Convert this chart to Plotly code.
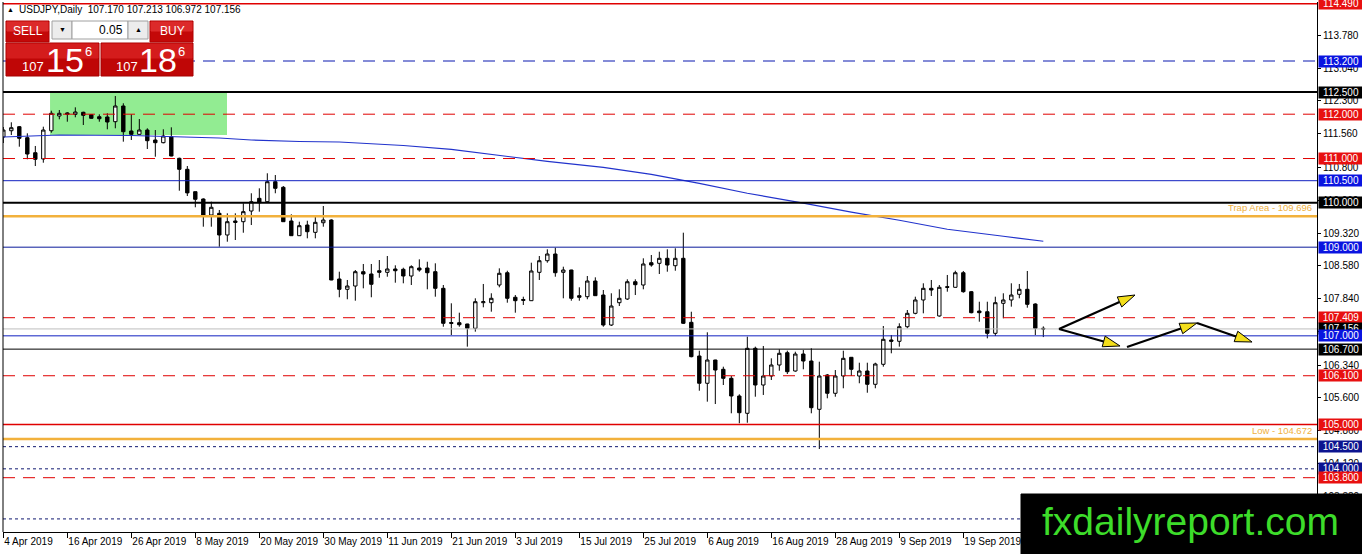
import math
import plotly.graph_objects as go

# USDJPY daily, 4 Apr 2019 - 3 Oct 2019
opens = [111.485, 111.627, 111.718, 111.470, 111.131, 110.990, 111.627, 111.959, 111.997, 111.997,
         112.043, 111.988, 111.943, 111.937, 111.831, 112.185, 111.621, 111.546, 111.643, 111.418,
         111.357, 111.492, 111.005, 110.757, 110.252, 110.087, 109.726, 109.764, 109.275, 109.557,
         109.575, 109.816, 110.102, 110.026, 110.477, 110.351, 109.591, 109.259, 109.500, 109.335,
         109.552, 109.613, 108.282, 108.050, 108.124, 108.447, 108.395, 108.469, 108.433, 108.508,
         108.501, 108.350, 108.530, 108.530, 108.447, 108.072, 107.278, 107.296, 107.267, 107.170,
         107.748, 107.748, 108.147, 108.424, 107.870, 107.798, 107.793, 108.433, 108.695, 108.846,
         108.433, 108.485, 107.906, 107.883, 108.237, 107.921, 107.244, 107.748, 107.831, 108.221,
         108.147, 108.650, 108.636, 108.749, 108.582, 108.749, 107.305, 106.545, 105.930, 106.455,
         106.245, 106.042, 105.643, 105.253, 106.719, 105.891, 106.094, 106.342, 106.620, 106.207,
         106.590, 106.432, 105.343, 106.117, 105.704, 106.094, 106.516, 106.094, 106.207, 105.907,
         106.358, 106.906, 106.877, 107.206, 107.508, 107.809, 108.072, 107.448, 108.109, 108.095,
         108.424, 107.996, 107.560, 107.544, 107.057, 107.734, 107.809, 107.937, 108.050, 107.718,
         107.170]
highs = [111.711, 111.817, 111.734, 111.569, 111.283, 111.718, 112.079, 112.094, 112.043, 112.155,
         112.056, 111.997, 111.997, 112.020, 112.410, 112.246, 111.997, 111.891, 111.682, 111.643,
         111.659, 111.704, 111.019, 110.831, 110.252, 110.102, 110.026, 109.839, 109.764, 109.764,
         109.990, 110.216, 110.328, 110.667, 110.628, 110.380, 109.742, 109.575, 109.597, 109.687,
         109.929, 109.629, 108.447, 108.260, 108.485, 108.621, 108.621, 108.711, 108.801, 108.591,
         108.537, 108.591, 108.726, 108.672, 108.636, 108.147, 107.734, 107.522, 107.272, 107.847,
         108.170, 107.960, 108.523, 108.469, 107.921, 107.883, 108.650, 108.801, 108.952, 108.988,
         108.560, 108.490, 108.095, 108.350, 108.320, 108.034, 107.960, 108.050, 108.275, 108.275,
         108.749, 108.824, 108.898, 108.952, 108.975, 109.327, 107.544, 106.665, 107.080, 106.460,
         106.304, 106.094, 105.681, 106.981, 106.756, 106.771, 106.493, 106.696, 106.665, 106.642,
         106.681, 106.719, 106.417, 106.139, 106.229, 106.665, 106.520, 106.394, 106.394, 106.394,
         107.222, 107.019, 107.283, 107.583, 107.883, 108.185, 108.260, 108.147, 108.373, 108.469,
         108.463, 108.012, 107.770, 107.770, 107.883, 107.960, 108.185, 108.170, 108.463, 107.734,
         107.213]
lows = [111.350, 111.530, 111.267, 110.983, 110.831, 110.906, 111.582, 111.885, 111.831, 111.930,
        111.756, 111.898, 111.831, 111.659, 111.682, 111.380, 111.418, 111.540, 111.215, 111.041,
        111.343, 111.050, 110.274, 110.154, 109.900, 109.462, 109.462, 109.011, 109.124, 109.162,
        109.326, 109.500, 109.801, 110.020, 110.216, 109.570, 109.255, 109.255, 109.200, 109.200,
        109.462, 108.255, 107.870, 107.825, 107.793, 108.072, 107.870, 108.311, 108.334, 108.199,
        108.185, 108.147, 108.447, 108.050, 107.883, 107.206, 107.019, 107.206, 106.756, 107.094,
        107.644, 107.545, 108.095, 107.748, 107.522, 107.696, 107.788, 108.260, 108.650, 108.334,
        107.847, 107.793, 107.793, 107.825, 107.900, 107.206, 107.222, 107.673, 107.809, 107.921,
        108.050, 108.560, 108.395, 108.447, 108.469, 107.267, 106.516, 105.762, 105.515, 105.462,
        105.891, 105.253, 105.027, 105.040, 105.627, 105.666, 106.004, 106.213, 106.139, 106.191,
        106.245, 105.253, 104.447, 105.591, 105.627, 105.817, 106.094, 105.930, 105.717, 105.817,
        106.304, 106.606, 106.756, 107.170, 107.486, 107.508, 107.899, 107.432, 107.996, 108.090,
        107.973, 107.508, 107.319, 106.944, 106.996, 107.396, 107.658, 107.847, 107.635, 107.019,
        106.972]
closes = [111.643, 111.695, 111.456, 111.102, 110.983, 111.643, 112.020, 112.020, 112.027, 112.049,
          111.975, 111.907, 111.898, 111.824, 112.185, 111.605, 111.546, 111.643, 111.402, 111.357,
          111.508, 111.057, 110.757, 110.225, 110.080, 109.726, 109.900, 109.275, 109.575, 109.591,
          109.801, 110.026, 110.003, 110.477, 110.328, 109.575, 109.259, 109.485, 109.349, 109.561,
          109.613, 108.260, 108.050, 108.124, 108.447, 108.395, 108.163, 108.433, 108.508, 108.469,
          108.350, 108.560, 108.485, 108.424, 108.072, 107.283, 107.301, 107.251, 107.170, 107.770,
          107.770, 107.847, 108.411, 107.847, 107.793, 107.820, 108.463, 108.695, 108.846, 108.424,
          108.485, 107.847, 107.870, 108.237, 107.906, 107.244, 107.673, 107.847, 108.221, 108.154,
          108.621, 108.598, 108.749, 108.598, 108.749, 107.283, 106.530, 105.930, 106.455, 106.229,
          106.042, 105.643, 105.266, 106.719, 105.891, 106.094, 106.342, 106.606, 106.191, 106.590,
          106.432, 105.379, 106.094, 105.704, 106.094, 106.493, 106.245, 106.207, 105.907, 106.365,
          106.922, 106.877, 107.206, 107.508, 107.809, 108.072, 108.034, 108.095, 108.095, 108.424,
          107.996, 107.522, 107.522, 107.057, 107.748, 107.809, 107.921, 108.050, 107.711, 107.170,
          107.156]
bars = list(range(len(closes)))

# moving average line (sampled along its length)
ma_bars = [0, 7, 16, 21, 27, 31, 37, 42, 50, 56, 62, 68, 75, 81, 87, 93, 100, 106, 112, 118, 125, 130]
ma_vals = [111.486, 111.531, 111.519, 111.497, 111.463, 111.418, 111.384, 111.373, 111.294, 111.205,
           111.070, 110.935, 110.800, 110.642, 110.440, 110.217, 109.992, 109.789, 109.608, 109.405,
           109.247, 109.134]

# date labels, one every 8 bars
date_labels = ["4 Apr 2019", "16 Apr 2019", "26 Apr 2019", "8 May 2019", "20 May 2019", "30 May 2019",
               "11 Jun 2019", "21 Jun 2019", "3 Jul 2019", "15 Jul 2019", "25 Jul 2019", "6 Aug 2019",
               "16 Aug 2019", "28 Aug 2019", "9 Sep 2019", "19 Sep 2019", "1 Oct 2019"]

# price scale labels
price_ticks = [113.780, 113.040, 112.300, 111.560, 110.800, 110.060, 109.320, 108.580,
               107.840, 107.100, 106.340, 105.600, 104.860, 104.120, 103.380, 102.640]

# horizontal levels drawn on the chart
levels = [114.490, 113.200, 112.500, 112.000, 111.000, 110.500, 110.000, 109.696, 109.000, 107.409,
          107.156, 107.000, 106.700, 106.100, 105.000, 104.672, 104.500, 104.000, 103.800, 102.870]
level_kinds = ["red", "blue_dash", "black_bold", "red_dash", "red_dash", "blue", "black_bold", "orange",
               "navy", "red_dash", "gray", "blue", "black", "red_dash", "red", "orange",
               "navy_dot", "navy_dot", "red_dash", "navy_dot"]
level_notes = {109.696: "Trap Area - 109.696", 104.672: "Low - 104.672"}

# support zone box and the analyst's arrows
zone = [5.84, 27.96, 111.53, 112.48]
arrows = [(131.96, 107.154, 141.46, 107.921),
          (131.96, 107.154, 139.59, 106.771),
          (140.46, 106.748, 149.21, 107.290),
          (149.21, 107.290, 156.09, 106.861)]

styles = {
    "red":        dict(color="#e00000", width=1.5, dash="solid", box="#e81010"),
    "red_dash":   dict(color="#e00000", width=1, dash="12px,8px", box="#e81010"),
    "blue_dash":  dict(color="#0a18b0", width=1.2, dash="12px,8px", box="#0a14e0"),
    "blue":       dict(color="#1020c0", width=1, dash="solid", box="#0a14e0"),
    "navy":       dict(color="#0a1a9a", width=1, dash="solid", box="#0a14e0"),
    "navy_dot":   dict(color="#101870", width=1, dash="3px,3px", box="#0c1490"),
    "black_bold": dict(color="#000000", width=2, dash="solid", box="#000000"),
    "black":      dict(color="#000000", width=1, dash="solid", box="#000000"),
    "gray":       dict(color="#bdbdbd", width=1, dash="solid", box="#000000"),
    "orange":     dict(color="#f2b13c", width=2.5, dash="solid", box=None),
}

W, H = 1362, 554
ML, MR, MT, MB = 3, 45, 2, 22
PX_BAR = 8.0
PX_YEN = 44.33
FONT = "Liberation Sans"


def px(xp):
    return (xp - ML) / (W - ML - MR)


def py(yp):
    return (H - MB - yp) / (H - MT - MB)


fig = go.Figure()

fig.add_trace(go.Scatter(x=ma_bars, y=ma_vals, mode="lines",
                         line=dict(color="#2233cc", width=1.2), hoverinfo="skip"))

fig.add_trace(go.Candlestick(
    x=bars, open=opens, high=highs, low=lows, close=closes,
    increasing=dict(fillcolor="white", line=dict(color="black", width=1)),
    decreasing=dict(fillcolor="black", line=dict(color="black", width=1)),
    whiskerwidth=0, hoverinfo="skip"))

shapes = []
annotations = []

shapes.append(dict(type="rect", xref="x", yref="y", x0=zone[0], x1=zone[1], y0=zone[2], y1=zone[3],
                   fillcolor="#92ec92", line=dict(width=0), layer="below"))

for lvl, kind in zip(levels, level_kinds):
    st = styles[kind]
    shapes.append(dict(type="line", xref="paper", yref="y", x0=0, x1=1, y0=lvl, y1=lvl,
                       line=dict(color=st["color"], width=st["width"], dash=st["dash"]), layer="above"))
    if lvl in level_notes:
        annotations.append(dict(x=1, xref="paper", y=lvl, yref="y", xanchor="right", yanchor="bottom",
                                xshift=-3, yshift=1, text=level_notes[lvl], showarrow=False,
                                font=dict(family=FONT, size=9.5, color="#f0b040")))

# right-hand price boxes
for lvl, kind in zip(levels, level_kinds):
    st = styles[kind]
    if st["box"] is None or lvl < 103:
        continue
    annotations.append(dict(x=1, xref="paper", y=lvl, yref="y", xanchor="left", yanchor="middle",
                            xshift=1, text=f"{lvl:.3f}", showarrow=False, bgcolor=st["box"],
                            width=42, height=9, borderpad=1,
                            font=dict(family=FONT, size=10, color="white")))


def arrow(x0, y0, x1, y1, head=17, half=5.5):
    u0, v0, u1, v1 = x0 * PX_BAR, y0 * PX_YEN, x1 * PX_BAR, y1 * PX_YEN
    d = math.hypot(u1 - u0, v1 - v0)
    ux, uy = (u1 - u0) / d, (v1 - v0) / d
    bu, bv = u1 - ux * head, v1 - uy * head
    pts = [(u1, v1), (bu - uy * half, bv + ux * half), (bu + uy * half, bv - ux * half)]
    path = "M " + " L ".join(f"{u / PX_BAR:.4f},{v / PX_YEN:.5f}" for u, v in pts) + " Z"
    return [dict(type="line", xref="x", yref="y", x0=x0, y0=y0, x1=bu / PX_BAR, y1=bv / PX_YEN,
                 line=dict(color="black", width=2.2), layer="above"),
            dict(type="path", xref="x", yref="y", path=path, fillcolor="#f3de1a",
                 line=dict(color="black", width=1), layer="above")]


for a in arrows:
    shapes += arrow(*a)

# left border of the chart window
shapes.append(dict(type="line", xref="paper", yref="paper", x0=0, x1=0, y0=0, y1=1,
                   line=dict(color="black", width=1)))


def rect(x0, y0, x1, y1, fill, border=None):
    return dict(type="rect", xref="paper", yref="paper", x0=px(x0), x1=px(x1), y0=py(y1), y1=py(y0),
                fillcolor=fill, line=dict(color=border or fill, width=1), layer="above")


def label(x, y, text, size, color="white", xanchor="center"):
    return dict(x=px(x), y=py(y), xref="paper", yref="paper", text=text, showarrow=False,
                xanchor=xanchor, yanchor="middle", font=dict(family=FONT, size=size, color=color))


# one-click trading panel
for x0, x1 in [(6, 49), (150, 193)]:
    shapes.append(rect(x0, 21, x1, 42, "#c40808", "#b00000"))
    shapes.append(rect(x0 + 1, 22, x1 - 1, 31, "#dc2a2a"))
for x0, x1 in [(6, 99), (101, 193)]:
    shapes.append(rect(x0, 43, x1, 76, "#bf0606", "#a80000"))
    shapes.append(rect(x0 + 1, 44, x1 - 1, 58, "#d41c1c"))
shapes.append(rect(52, 21, 72, 39, "#ececec", "#a0a0a0"))
shapes.append(rect(72, 21, 128, 39, "white", "#a0a0a0"))
shapes.append(rect(128, 21, 148, 39, "#ececec", "#a0a0a0"))

annotations += [
    label(28, 31, "SELL", 12),
    label(172, 31, "BUY", 12),
    label(62, 30, "▼", 7, "black"),
    label(138, 30, "▲", 7, "black"),
    label(125, 30, "0.05", 12, "black", "right"),
    label(33, 67, "107", 13),
    label(65, 60, "15", 34),
    label(88, 52, "6", 13),
    label(127, 67, "107", 13),
    label(158, 60, "18", 34),
    label(181, 52, "6", 13),
    label(5, 10, "▲", 7, "black", "left"),
    label(17, 10, "USDJPY,Daily  107.170 107.213 106.972 107.156", 10, "black", "left"),
]

# watermark
shapes.append(rect(1021, 494, 1362, 554, "black"))
annotations.append(label(1190, 521, "fxdailyreport.com", 39, "#3ddc2a"))

fig.update_layout(
    width=W, height=H,
    margin=dict(l=ML, r=MR, t=MT, b=MB, autoexpand=False),
    paper_bgcolor="white", plot_bgcolor="white",
    showlegend=False, hovermode=False, boxgap=0.4,
    shapes=shapes, annotations=annotations,
    font=dict(family=FONT, size=10, color="black"),
    xaxis=dict(range=[-0.04, 164.21], rangeslider=dict(visible=False), showgrid=False, zeroline=False,
               tickmode="array", tickvals=[8 * i for i in range(len(date_labels))], ticktext=date_labels,
               ticks="outside", ticklen=5, tickcolor="black", showline=True, linecolor="black",
               ticklabelposition="outside right", tickangle=0, automargin=False,
               tickfont=dict(size=10)),
    yaxis=dict(range=[102.575, 114.531], side="right", showgrid=False, zeroline=False,
               tickmode="array", tickvals=price_ticks, ticktext=[f"{v:.3f}" for v in price_ticks],
               ticks="outside", ticklen=3, tickcolor="black", showline=True, linecolor="black",
               automargin=False, tickfont=dict(size=10)),
)

# the page body has a default margin; drop it so the figure fills the window
fig.write_html("out.html", config={"displayModeBar": False},
               post_script="document.body.style.margin='0';document.body.style.overflow='hidden';")
